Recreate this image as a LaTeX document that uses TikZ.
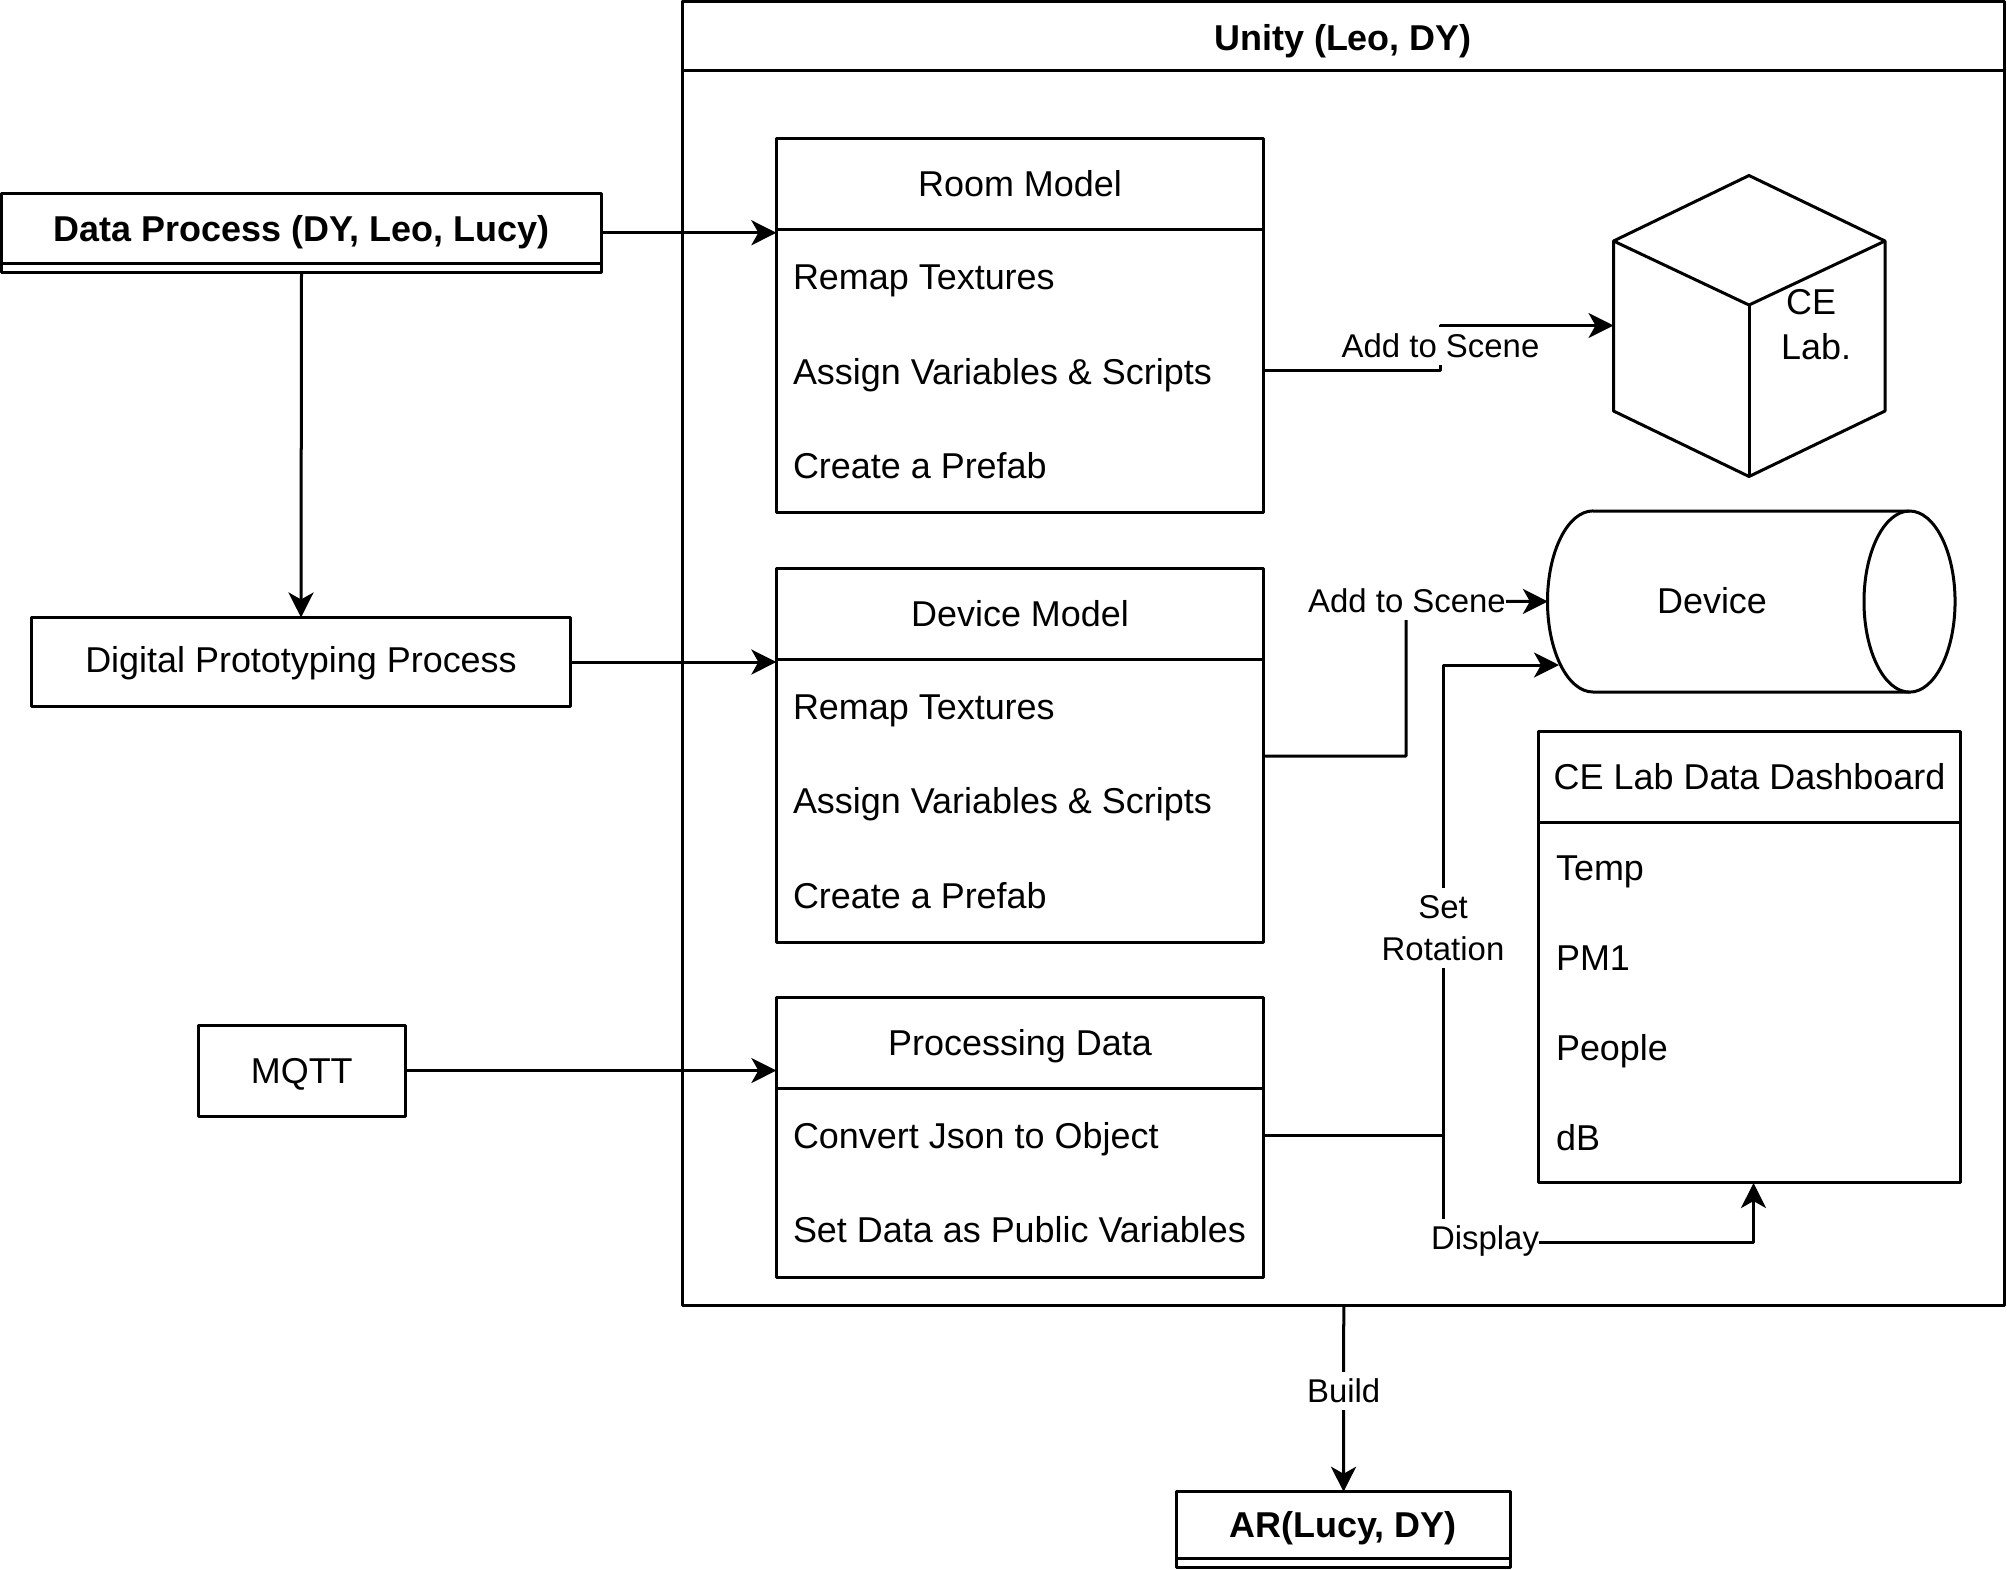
\documentclass[tikz,border=0pt]{standalone}
\usepackage{fontspec}
\setmainfont{Liberation Sans}
\usetikzlibrary{arrows.meta,positioning}
\tikzset{
  plainbox/.style={draw,inner sep=0pt,outer sep=0pt,align=center,text height=.72em,text depth=0pt},
  titlebox/.style={plainbox,minimum width=4.87cm,minimum height=.905cm},
  listbody/.style={plainbox,minimum width=4.87cm,below=0pt of #1},
  rowtext/.style={inner sep=0pt,outer sep=0pt,anchor=west,text height=.72em,text depth=0pt},
  headtext/.style={inner sep=0pt,outer sep=0pt,font=\mainfs\bfseries,text height=.72em,text depth=0pt},
  linklabel/.style={fill=white,inner xsep=0pt,inner ysep=2pt,align=center,font=\labelfs},
}
\newcommand{\mainfs}{\fontsize{10.22pt}{12.8pt}\selectfont}
\newcommand{\labelfs}{\fontsize{9.36pt}{11.9pt}\selectfont}
\begin{document}
\begin{tikzpicture}[x=0.01cm,y=-0.01cm,>={Stealth[length=.25cm,width=.25cm,inset=.07cm]},line width=.03cm,line join=round,font=\mainfs]
\useasboundingbox (0,0) rectangle (2007,1569);
% Unity frame
\node[plainbox,minimum width=13.215cm,minimum height=13.035cm] (unity) at (1343.75,653.25) {};
\node[plainbox,minimum width=13.215cm,minimum height=.685cm] (unitytitle) at (1343.75,35.75) {};
\node[headtext] (unitylabel) at (1343,37.5) {Unity (Leo, DY)};
% left column
\node[plainbox,minimum width=6.005cm,minimum height=.785cm] (dataproc) at (301.5,232.75) {};
\node[headtext] (dataproclabel) at (301.5,229) {Data Process (DY, Leo, Lucy)};
\draw ([yshift=.09cm]dataproc.south west) -- ([yshift=.09cm]dataproc.south east);
\node[plainbox,minimum width=5.38cm,minimum height=.89cm,text depth=.12em] (digital) at (301,662) {Digital Prototyping Process};
\node[plainbox,minimum width=2.065cm,minimum height=.91cm] (mqtt) at (301.75,1070.5) {MQTT};
% room model
\node[titlebox] (roomtitle) at (1020,183.75) {Room Model};
\node[listbody=roomtitle,minimum height=2.836cm] (roombody) {};
\node[rowtext] (roomremap) at (793,277) {Remap Textures};
\node[rowtext] (roomassign) at (793,372) {Assign Variables \& Scripts};
\node[rowtext] (roomprefab) at (793,466) {Create a Prefab};
% device model
\node[titlebox] (devtitle) at (1020,614) {Device Model};
\node[listbody=devtitle,minimum height=2.83cm] (devbody) {};
\node[rowtext] (devremap) at (793,706.5) {Remap Textures};
\node[rowtext] (devassign) at (793,800.5) {Assign Variables \& Scripts};
\node[rowtext] (devprefab) at (793,896) {Create a Prefab};
% processing data
\node[titlebox] (proctitle) at (1020,1043) {Processing Data};
\node[listbody=proctitle,minimum height=1.89cm] (procbody) {};
\node[rowtext] (procconvert) at (793,1136) {Convert Json to Object};
\node[rowtext] (procpublic) at (793,1230) {Set Data as Public Variables};
% cube
\coordinate (cubet) at (1749,175.5);
\coordinate (cubel) at (1613.5,241);
\coordinate (cuber) at (1885,241);
\coordinate (cubec) at (1749,305);
\coordinate (cubebl) at (1613.5,411);
\coordinate (cubebr) at (1885,411);
\coordinate (cubeb) at (1749,476.5);
\coordinate (cubein) at (1613.5,325.5);
\draw (cubel) -- (cubet) -- (cuber) -- (cubebr) -- (cubeb) -- (cubebl) -- cycle;
\draw (cubel) -- (cubec) -- (cuber);
\draw (cubec) -- (cubeb);
\node[inner sep=0pt,align=center] (cubelabel) at (1816,325) {CE\hspace*{.1cm}\\Lab.};
% device cylinder
\node[inner sep=0pt,outer sep=0pt,minimum width=4.07cm,minimum height=1.81cm] (device) at (1751.5,601.5) {};
\draw (1593,511) -- (1909.5,511) arc[start angle=90,end angle=-90,x radius=.455cm,y radius=.905cm] -- (1593,692)
  arc[start angle=270,end angle=90,x radius=.455cm,y radius=.905cm];
\draw (1909.5,511) arc[start angle=90,end angle=270,x radius=.455cm,y radius=.905cm];
\node[inner sep=0pt] (devicelabel) at (1712,601) {Device};
\coordinate (devicein) at (1559,665);
% dashboard
\node[plainbox,minimum width=4.21cm,minimum height=.9cm] (dashtitle) at (1749.5,777) {CE Lab Data Dashboard};
\node[plainbox,minimum width=4.21cm,minimum height=3.6cm,below=0pt of dashtitle] (dashbody) {};
\node[rowtext] (dashtemp) at (1556,868) {Temp};
\node[rowtext] (dashpm) at (1556,958) {PM1};
\node[rowtext] (dashpeople) at (1556,1048) {People};
\node[rowtext] (dashdb) at (1556,1138) {dB};
\coordinate (dashin) at (1753.5,1183);
\coordinate (dashdrop) at (1753.5,1242);
% AR
\node[plainbox,minimum width=3.345cm,minimum height=.755cm] (ar) at (1343.5,1529.5) {};
\node[headtext] (arlabel) at (1343,1525) {AR(Lucy, DY)};
\draw ([yshift=.09cm]ar.south west) -- ([yshift=.09cm]ar.south east);
% connectors
\draw[->] (dataproc.east) -- (dataproc.east -| roomtitle.west);
\draw[->] (dataproc.south) -- (digital.north);
\draw[->] (digital.east) -- (digital.east -| devtitle.west);
\draw[->] (mqtt.east) -- (mqtt.east -| proctitle.west);
\coordinate (roomout) at (roombody.east |- 0,370.5);
\coordinate (roomturn) at (1440,325.5);
\draw[->] (roomout) -| (roomturn) -- (cubein);
\node[linklabel] (roomadd) at (1440.5,346) {Add to Scene};
\coordinate (devout) at (devbody.east |- 0,756);
\coordinate (devturn) at (1406,601);
\draw[->] (devout) -| (devturn) -- (device.west);
\node[linklabel] (devadd) at (1407,601) {Add to Scene};
\coordinate (procfork) at (1443,1135.5);
\draw (procbody.east |- procfork) -- (procfork);
\draw[->] (procfork) |- (devicein);
\draw[->] (procfork) |- (dashdrop) -- (dashin);
\node[linklabel] (procset) at (1443,928) {Set\\Rotation};
\node[linklabel] (procshow) at (1485,1241) {Display};
\draw[->] (unity.south) -- (ar.north) node[linklabel,pos=.46] (buildlabel) {Build};
\end{tikzpicture}
\end{document}
